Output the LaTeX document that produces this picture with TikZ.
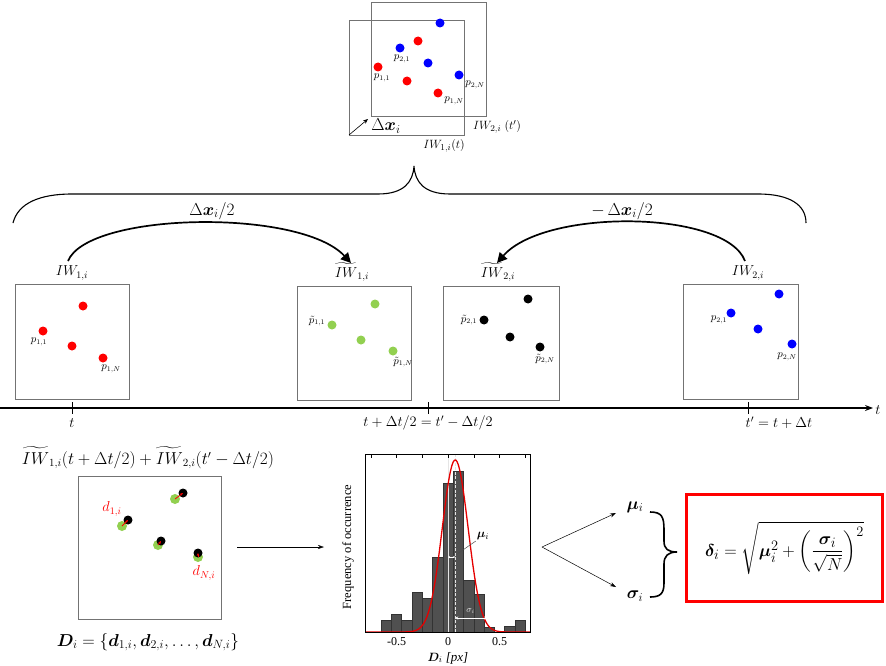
\documentclass[tikz,border=0pt]{standalone}
\usepackage{amsmath,bm}
\usepackage{fontspec}
\newfontfamily\timesf{Liberation Serif}
\usetikzlibrary{arrows.meta}
\definecolor{pgreen}{RGB}{146,208,80}
\definecolor{pred}{RGB}{255,0,0}
\definecolor{pblue}{RGB}{0,0,255}
\definecolor{barfill}{RGB}{80,80,80}
\begin{document}
\begin{tikzpicture}[x=1pt,y=-1pt,
  win/.style={draw=black!55, line width=0.8pt, inner sep=0pt, outer sep=0pt},
  dot/.style={circle, inner sep=0pt, minimum size=9pt},
  plab/.style={font=\fontsize{10.5}{12}\selectfont, inner sep=0.5pt},
  wlab/.style={font=\fontsize{14}{16}\selectfont},
  bigarc/.style={line width=1.7pt, -{Triangle[length=10pt,width=10pt]}},
  conn/.style={line width=0.5pt, -{Stealth[length=6pt,width=4pt]}},
  tick/.style={line width=0.9pt},
  tlab/.style={font=\fontsize{14}{16}\selectfont},
  brace/.style={line width=1.1pt},
  dvec/.style={pred, line width=0.8pt, -{Stealth[length=3pt,width=2.5pt]}}
]
\useasboundingbox (0,0) rectangle (886,666);

% ---------- top overlapping windows ----------
\node[win, minimum width=115pt, minimum height=115pt] (tw1) at (406.5,77.5) {};
\node[win, minimum width=115pt, minimum height=114pt] (tw2) at (428.5,59) {};
\node[dot, fill=pred] (tr1) at (418,41) {};
\node[dot, fill=pred] (tr2) at (378,67) {};
\node[dot, fill=pred] (tr3) at (407,81) {};
\node[dot, fill=pred] (tr4) at (438,93) {};
\node[dot, fill=pblue] (tb1) at (440,23) {};
\node[dot, fill=pblue] (tb2) at (400,48) {};
\node[dot, fill=pblue] (tb3) at (428,63) {};
\node[dot, fill=pblue] (tb4) at (459,75) {};
\node[plab] at (402,59) {$p_{2,1}$};
\node[plab] at (382,78) {$p_{1,1}$};
\node[plab] at (454,101) {$p_{1,N}$};
\node[plab] at (475,85) {$p_{2,N}$};
\coordinate (dxe) at (368,119);
\draw[line width=0.6pt, -{Stealth[length=5pt,width=4pt]}] (tw1.south west) -- (dxe);
\node[font=\fontsize{17}{19}\selectfont] at (386,126) {$\Delta\bm{x}_i$};
\node[font=\fontsize{12.5}{14}\selectfont] at (497,127) {$IW_{2,i}\;(t')$};
\node[font=\fontsize{12.5}{14}\selectfont] at (444,146) {$IW_{1,i}(t)$};

% ---------- big brace ----------
\coordinate (btip) at (414,166);
\draw[brace] (13,223) .. controls (18,203) and (40,194) .. (72,194) -- (378,194)
  .. controls (404,194) and (413,182) .. (btip)
  .. controls (415,182) and (424,194) .. (450,194) -- (758,194)
  .. controls (790,194) and (806,205) .. (806,223);

% ---------- windows row ----------
\node[win, minimum width=114pt, minimum height=115pt] (wa) at (72,341.5) {};
\node[win, minimum width=114pt, minimum height=114pt] (wb) at (354,343) {};
\node[win, minimum width=116pt, minimum height=114pt] (wc) at (501,343) {};
\node[win, minimum width=115pt, minimum height=115pt] (wd) at (740.5,341.5) {};

\node[wlab] (la) at (72,273) {$IW_{1,i}$};
\node[wlab] (lb) at (352,272) {$\widetilde{IW}_{1,i}$};
\node[wlab] (lc) at (498,272) {$\widetilde{IW}_{2,i}$};
\node[wlab] (ld) at (748,273) {$IW_{2,i}$};

% window A (red)
\node[dot, fill=pred] (a1) at (83,306) {};
\node[dot, fill=pred] (a2) at (43,331) {};
\node[dot, fill=pred] (a3) at (72,346) {};
\node[dot, fill=pred] (a4) at (103,358) {};
\node[plab] at (39,342) {$p_{1,1}$};
\node[plab] at (111,369) {$p_{1,N}$};
% window B (green)
\node[dot, fill=pgreen] (b1) at (375,304) {};
\node[dot, fill=pgreen] (b2) at (332,325) {};
\node[dot, fill=pgreen] (b3) at (361,340) {};
\node[dot, fill=pgreen] (b4) at (393,351) {};
\node[plab] at (317,321) {$\tilde{p}_{1,1}$};
\node[plab] at (403,362) {$\tilde{p}_{1,N}$};
% window C (black)
\node[dot, fill=black] (c1) at (528,299) {};
\node[dot, fill=black] (c2) at (484,320) {};
\node[dot, fill=black] (c3) at (510,337) {};
\node[dot, fill=black] (c4) at (540,347) {};
\node[plab] at (469,320) {$\tilde{p}_{2,1}$};
\node[plab] at (545,359) {$\tilde{p}_{2,N}$};
% window D (blue)
\node[dot, fill=pblue] (d1) at (779,294) {};
\node[dot, fill=pblue] (d2) at (731,313) {};
\node[dot, fill=pblue] (d3) at (758,329) {};
\node[dot, fill=pblue] (d4) at (792,344) {};
\node[plab] at (719,320) {$p_{2,1}$};
\node[plab] at (787,357) {$p_{2,N}$};

% arcs
\coordinate (a1s) at (68,261);
\coordinate (a1e) at (351,263);
\coordinate (a2s) at (745,261);
\coordinate (a2e) at (497,263);
\draw[bigarc] (a1s) .. controls (88,212) and (300,208) .. (a1e);
\draw[bigarc] (a2s) .. controls (726,210) and (545,208) .. (a2e);
\node[font=\fontsize{16.5}{18}\selectfont] at (212,211) {$\Delta\bm{x}_i/2$};
\node[font=\fontsize{16.5}{18}\selectfont] at (622,211) {$-\,\Delta\bm{x}_i/2$};

% ---------- time axis ----------
\coordinate (ax0) at (0,408);
\coordinate (ax1) at (873,408);
\draw[line width=1.2pt, -{Stealth[length=8pt,width=6pt]}] (ax0) -- (ax1);
\node[tlab] at (878,410) {$t$};
\draw[tick] (72,402) -- (72,414);
\draw[tick] (428,402) -- (428,414);
\draw[tick] (748,402) -- (748,414);
\node[tlab] at (72,423) {$t$};
\node[tlab] at (428,423) {$t+\Delta t/2=t'-\Delta t/2$};
\node[tlab] at (779,423) {$t'=t+\Delta t$};

% ---------- bottom-left window ----------
\node[font=\fontsize{16}{18}\selectfont] at (148,458) {$\widetilde{IW}_{1,i}(t+\Delta t/2)+\widetilde{IW}_{2,i}(t'-\Delta t/2)$};
\node[win, minimum width=143pt, minimum height=143pt] (wbl) at (149.5,547.5) {};
\node[dot, fill=pgreen, minimum size=10pt] (g1) at (122,526) {};
\node[dot, fill=black] (k1) at (128,520) {};
\node[dot, fill=pgreen, minimum size=10pt] (g2) at (175,499) {};
\node[dot, fill=black] (k2) at (183,493) {};
\node[dot, fill=pgreen, minimum size=10pt] (g3) at (158,545) {};
\node[dot, fill=black] (k3) at (161,541) {};
\node[dot, fill=pgreen, minimum size=10pt] (g4) at (198,557) {};
\node[dot, fill=black] (k4) at (198,553) {};
\draw[dvec] (g1.center) -- (k1.center);
\draw[dvec] (g2.center) -- (k2.center);
\draw[dvec] (g3.center) -- (k3.center);
\draw[dvec] (g4.center) -- (k4.center);
\node[text=pred, font=\fontsize{14.5}{16}\selectfont] at (112,509) {$d_{1,i}$};
\node[text=pred, font=\fontsize{14.5}{16}\selectfont] at (204,573) {$d_{N,i}$};
\node[font=\fontsize{17}{19}\selectfont] at (148,642) {$\bm{D}_i=\{\bm{d}_{1,i},\bm{d}_{2,i},\dots,\bm{d}_{N,i}\}$};

\coordinate (hs) at (237,547);
\coordinate (he) at (324,547);
\draw[conn] (hs) -- (he);

% ---------- histogram ----------
\begin{scope}[shift={(448pt,-632pt)}, x=103pt, y=1pt]
  \foreach \l/\h in {-0.65/12,-0.55/18,-0.45/12,-0.35/40,-0.25/34,-0.15/75,-0.05/149,0.05/161,0.15/52,0.25/38,0.35/5,0.55/6,0.65/12}{
    \filldraw[fill=barfill, draw=black!80, line width=0.5pt] (\l,0) rectangle ({\l+0.1},\h);
  }
  \draw[white!80!gray, line width=0.8pt] (0,0) -- (0,178);
  \draw[white!80!gray, line width=0.8pt, dashed, dash pattern=on 3pt off 1.5pt] (0.07,0) -- (0.07,178);
  \draw[red!90!black, line width=1.3pt, domain=-0.8:0.8, samples=140, smooth]
     plot (\x, {172*exp(-((\x-0.07)^2)/(2*0.125^2))});
  \draw[black, line width=0.7pt] (-0.8,0) rectangle (0.8,178);
  \foreach \v in {-0.75,-0.5,-0.25,0,0.25,0.5,0.75}{
    \draw[line width=0.5pt] (\v,178) -- (\v,174);
  }
  % mu marker
  \draw[white, line width=0.6pt, {Stealth[length=2pt,width=2pt]}-{Stealth[length=2pt,width=2pt]}] (0,75) -- (0.07,75);
  \node[font=\fontsize{13}{15}\selectfont, inner sep=1pt] (mulab) at (0.34,96) {$\bm{\mu}_i$};
  \draw[black!70, line width=0.5pt] (mulab.south west) -- (0.075,77);
  % sigma marker
  \draw[white, line width=0.7pt, {Stealth[length=3pt,width=3pt]}-{Stealth[length=3pt,width=3pt]}] (0.07,14) -- (0.38,14);
  \node[text=white!80!gray, font=\fontsize{9}{10}\selectfont\timesf, inner sep=0pt] at (0.22,21) {$\sigma_i$};
  \foreach \v/\t in {-0.5/-0.5,0/0,0.5/0.5}{
    \node[font=\fontsize{12}{14}\selectfont\timesf] at (\v,-10) {\t};
  }
  \node[font=\fontsize{13}{15}\selectfont\timesf] at (0,-26) {$\bm{D}_i$ \textit{[px]}};
  \node[rotate=90, font=\fontsize{12.5}{14}\selectfont\timesf] at (-0.97,85) {Frequency of occurrence};
\end{scope}

% ---------- right part ----------
\coordinate (apex) at (542,547);
\node[font=\fontsize{18}{20}\selectfont] (mu) at (635,507) {$\bm{\mu}_i$};
\node[font=\fontsize{18}{20}\selectfont] (sig) at (635,596) {$\bm{\sigma}_i$};
\draw[conn] (apex) -- (616,513);
\draw[conn] (apex) -- (616,587);
\draw[line width=1.6pt] (650,512) .. controls (662,512) and (664,517) .. (664,530) -- (664,541)
  .. controls (664,549) and (668,552) .. (677,552)
  .. controls (668,552) and (664,556) .. (664,564) -- (664,583)
  .. controls (664,594) and (660,597) .. (650,597);
\node[draw=pred, line width=2.6pt, minimum width=196pt, minimum height=107pt, inner sep=0pt] (fbox) at (784.5,548)
  {\fontsize{19}{22}\selectfont$\displaystyle \bm{\delta}_i=\sqrt{\bm{\mu}_i^2+\left(\frac{\bm{\sigma}_i}{\sqrt{N}}\right)^{2}}$};
\end{tikzpicture}
\end{document}
